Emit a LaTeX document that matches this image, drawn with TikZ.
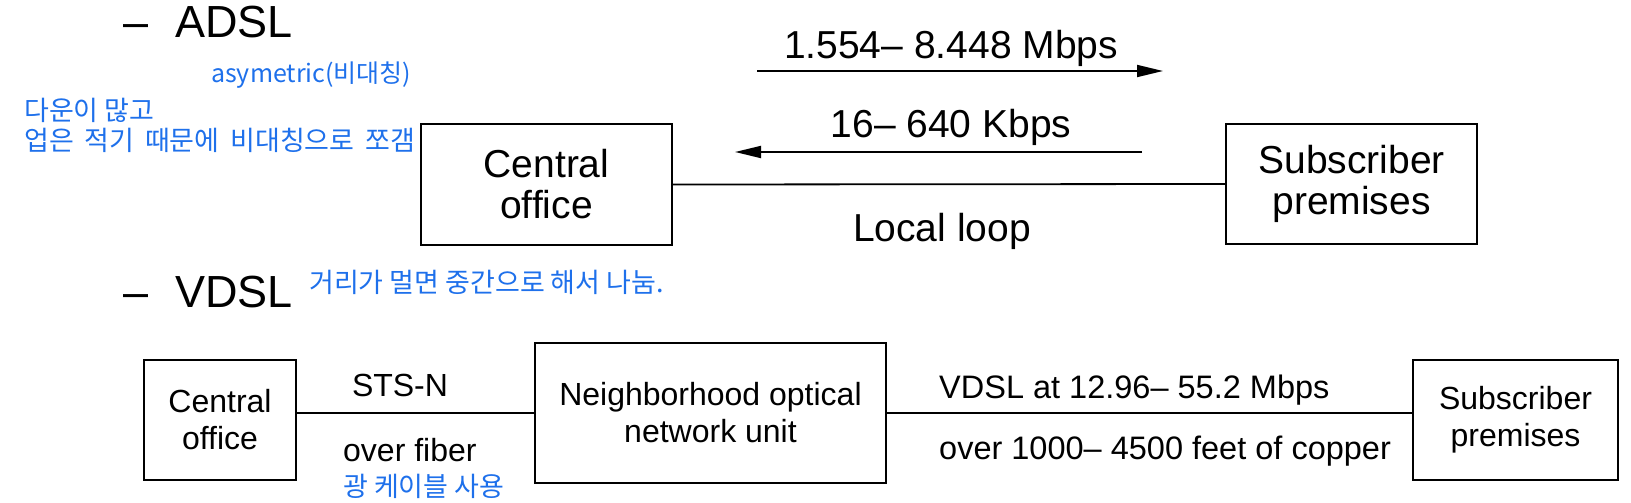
\documentclass[tikz,border=0pt]{standalone}
\usepackage{fontspec}
\setmainfont{Liberation Sans}
\newfontfamily\kr{Noto Sans CJK KR}
\usetikzlibrary{arrows.meta}
\definecolor{kblue}{RGB}{30,112,235}
\begin{document}
\begin{tikzpicture}[x=1pt,y=-1pt,
  box/.style={draw, line width=1.8pt, inner sep=0pt, align=center},
  conn/.style={line width=1.8pt},
  note/.style={inner sep=0pt, text=kblue, font=\kr\fontsize{27}{30}\selectfont},
  notelat/.style={inner sep=0pt, text=kblue, font=\kr\fontsize{25}{30}\selectfont},
  big/.style={inner sep=0pt, font=\fontsize{39}{41}\selectfont},
  mid/.style={inner sep=0pt, font=\fontsize{32}{37}\selectfont},
  head/.style={inner sep=0pt, font=\fontsize{45}{50}\selectfont},
  arr/.style={line width=1.8pt, -{Triangle[length=26pt,width=12pt]}}
]
\useasboundingbox (0,0) rectangle (1631,503);

% ---------- ADSL ----------
\node[head, anchor=base west] (dashA) at (123,38) {–};
\node[head, anchor=base west] (adsl) at (175,38) {ADSL};
\node[notelat, anchor=west] (asym) at (211,75) {asymetric(비대칭)};
\node[note, anchor=west] (n1) at (24,110) {다운이 많고};
\node[note, anchor=west] (n2) at (24,140) {\spaceskip=0.4em 업은 적기 때문에 비대칭으로 쪼갬};

\node[box, big, minimum width=251pt, minimum height=121pt] (co1) at (546.5,184.5) {Central\\office};
\node[box, big, minimum width=251pt, minimum height=120pt] (sp1) at (1351.5,184) {Subscriber\\premises};

\coordinate (a1s) at (757,71);
\coordinate (a1e) at (1163,71);
\draw[arr] (a1s) -- (a1e);
\node[big] (l1) at (951,48) {1.554– 8.448 Mbps};

\coordinate (a2s) at (1142,152);
\coordinate (a2e) at (735,152);
\draw[arr] (a2s) -- (a2e);
\node[big] (l2) at (951,127) {16– 640 Kbps};

\draw[conn] (co1.east) -- (sp1.west);
\node[big] (l3) at (942,231) {Local loop};

% ---------- VDSL ----------
\node[head, anchor=base west] (dashV) at (123,307) {–};
\node[head, anchor=base west] (vdsl) at (175,307) {VDSL};
\node[note, anchor=west] (n3) at (309,282) {거리가 멀면 중간으로 해서 나눔.};

\node[box, mid, minimum width=152pt, minimum height=120pt] (co2) at (220,420) {Central\\office};
\node[box, mid, minimum width=351pt, minimum height=140pt] (onu) at (710.5,413) {Neighborhood optical\\network unit};
\node[box, mid, minimum width=205pt, minimum height=120pt] (sp2) at (1515.5,420) {Subscriber\\premises};

\draw[conn] (onu.west -| co2.east) -- (onu.west);
\draw[conn] (onu.east) -- (onu.east -| sp2.west);

\node[mid] (s1) at (400,385) {STS-N};
\node[mid, anchor=west] (s2) at (343,450) {over fiber};
\node[note, anchor=west] (n4) at (343,486) {광 케이블 사용};
\node[mid, anchor=west, font=\fontsize{32.5}{37}\selectfont] (v1) at (939,390) {VDSL at 12.96– 55.2 Mbps};
\node[mid, anchor=west, font=\fontsize{32.5}{37}\selectfont] (v2) at (939,451) {over 1000– 4500 feet of copper};
\end{tikzpicture}
\end{document}
